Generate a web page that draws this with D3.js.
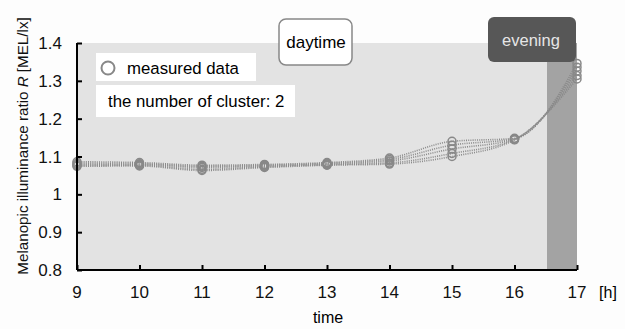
<!DOCTYPE html>
<meta charset="utf-8">
<style>
  body{ margin:0; background:#fdfdfd; }
  svg{ display:block; font-family:"Liberation Sans", Arial, sans-serif; }
</style>
<script src="https://d3js.org/d3.v7.min.js"></script>
<svg id="vis"></svg>
<script>
  var width = 625,
    height = 329,
    margin = {left: 77, right: 48, top: 43, bottom: 59};

  // data -------------------------------------------------
  var hours = [9, 10, 11, 12, 13, 14, 15, 16, 17];
  var xTicks = [9, 10, 11, 12, 13, 14, 15, 16, 17];
  var yTicks = [0.8, 0.9, 1, 1.1, 1.2, 1.3, 1.4];
  var eveningStart = 16.52;
  var series1 = [1.086, 1.084, 1.077, 1.079, 1.084, 1.096, 1.140, 1.148, 1.346];
  var series2 = [1.082, 1.081, 1.074, 1.077, 1.082, 1.092, 1.130, 1.147, 1.336];
  var series3 = [1.079, 1.079, 1.071, 1.075, 1.080, 1.088, 1.120, 1.146, 1.326];
  var series4 = [1.076, 1.077, 1.066, 1.073, 1.078, 1.083, 1.108, 1.145, 1.314];
  var series5 = [1.074, 1.075, 1.063, 1.071, 1.077, 1.080, 1.100, 1.144, 1.305];
  var allSeries = [series1, series2, series3, series4, series5];

  var svg = d3.select("#vis")
    .attr("width", width)
    .attr("height", height);

  var x = d3.scaleLinear()
    .domain([9, 17])
    .range([margin.left, width - margin.right]);

  var y = d3.scaleLinear()
    .domain([0.8, 1.4])
    .range([height - margin.bottom, margin.top]);

  // background -------------------------------------------------
  svg.append("rect")
    .attr("x", x(9))
    .attr("y", y(1.4))
    .attr("width", x(17) - x(9))
    .attr("height", y(0.8) - y(1.4))
    .style("fill", "#e3e3e3");

  svg.append("rect")
    .attr("x", x(eveningStart))
    .attr("y", y(1.4))
    .attr("width", x(17) - x(eveningStart))
    .attr("height", y(0.8) - y(1.4))
    .style("fill", "#a3a3a3");

  // curves -------------------------------------------------
  var line = d3.line()
    .x(function(d, i){ return x(hours[i]); })
    .y(function(d){ return y(d); })
    .curve(d3.curveMonotoneX);

  svg.selectAll(".curve")
    .data(allSeries)
    .enter().append("path")
    .attr("class", "curve")
    .attr("d", line)
    .style("fill", "none")
    .style("stroke", "#8a8a8a")
    .style("stroke-width", 1.6)
    .style("stroke-dasharray", "1,1.2");

  // points
  var points = [];
  allSeries.forEach(function(s){
    s.forEach(function(v, i){ points.push({h: hours[i], v: v}); });
  });

  svg.selectAll(".pt")
    .data(points)
    .enter().append("circle")
    .attr("class", "pt")
    .attr("cx", d => x(d.h))
    .attr("cy", d => y(d.v))
    .attr("r", 4)
    .style("fill", "none")
    .style("stroke", "#888")
    .style("stroke-width", 1.5);

  // axes -------------------------------------------------
  var yAxis = svg.append("g")
    .attr("transform", "translate(" + x(9) + ",0)")
    .call(d3.axisRight(y).tickValues(yTicks).tickSize(5).tickFormat(""));
  yAxis.select(".domain").attr("d", "M0," + y(1.4) + "V" + y(0.8)).style("stroke-width", 2);
  yAxis.selectAll("line").style("stroke-width", 2);

  var xAxis = svg.append("g")
    .attr("transform", "translate(0," + y(0.8) + ")")
    .call(d3.axisTop(x).tickValues(xTicks).tickSize(5).tickFormat(""));
  xAxis.select(".domain").attr("d", "M" + x(9) + ",0H" + x(17)).style("stroke-width", 2);
  xAxis.selectAll("line").style("stroke-width", 2);

  svg.selectAll(".ylab")
    .data(yTicks)
    .enter().append("text")
    .attr("x", 62)
    .attr("y", d => y(d))
    .attr("dy", "0.36em")
    .attr("text-anchor", "end")
    .style("font-size", "17px")
    .style("fill", "#111")
    .text(d => d3.format("")(d));

  svg.selectAll(".xlab")
    .data(xTicks)
    .enter().append("text")
    .attr("x", d => x(d))
    .attr("y", 298)
    .attr("text-anchor", "middle")
    .style("font-size", "17px")
    .style("fill", "#111")
    .text(d => d);

  svg.append("text")
    .attr("x", 608).attr("y", 298)
    .attr("text-anchor", "middle")
    .style("font-size", "16px")
    .text("[h]");

  svg.append("text")
    .attr("x", 328).attr("y", 323)
    .attr("text-anchor", "middle")
    .style("font-size", "16px")
    .text("time");

  var yTitle = svg.append("text")
    .attr("transform", "translate(28,146) rotate(-90)")
    .attr("text-anchor", "middle")
    .style("font-size", "15.2px")
    .style("fill", "#111");
  yTitle.append("tspan").text("Melanopic illuminance ratio ");
  yTitle.append("tspan").style("font-style", "italic").text("R");
  yTitle.append("tspan").text(" [MEL/lx]");

  // legend boxes -------------------------------------------------
  svg.append("rect")
    .attr("x", 96).attr("y", 53).attr("width", 160).attr("height", 28)
    .style("fill", "white");
  svg.append("circle")
    .attr("cx", 108).attr("cy", 68).attr("r", 6.5)
    .style("fill", "none").style("stroke", "#888").style("stroke-width", 2);
  svg.append("text")
    .attr("x", 127).attr("y", 74)
    .style("font-size", "16.8px")
    .text("measured data");

  svg.append("rect")
    .attr("x", 96).attr("y", 85).attr("width", 199).attr("height", 32)
    .style("fill", "white");
  svg.append("text")
    .attr("x", 108).attr("y", 107)
    .style("font-size", "16.8px")
    .text("the number of cluster: 2");

  // period labels -------------------------------------------------
  svg.append("rect")
    .attr("x", 279).attr("y", 19).attr("width", 73).attr("height", 46)
    .attr("rx", 7)
    .style("fill", "white")
    .style("stroke", "#888")
    .style("stroke-width", 1.5);
  svg.append("text")
    .attr("x", 316).attr("y", 48)
    .attr("text-anchor", "middle")
    .style("font-size", "17px")
    .text("daytime");

  svg.append("rect")
    .attr("x", 488).attr("y", 17).attr("width", 88).attr("height", 45)
    .attr("rx", 6)
    .style("fill", "#575757");
  svg.append("text")
    .attr("x", 531).attr("y", 46)
    .attr("text-anchor", "middle")
    .style("font-size", "16.5px")
    .style("fill", "#e6e6e6")
    .text("evening");
</script>
